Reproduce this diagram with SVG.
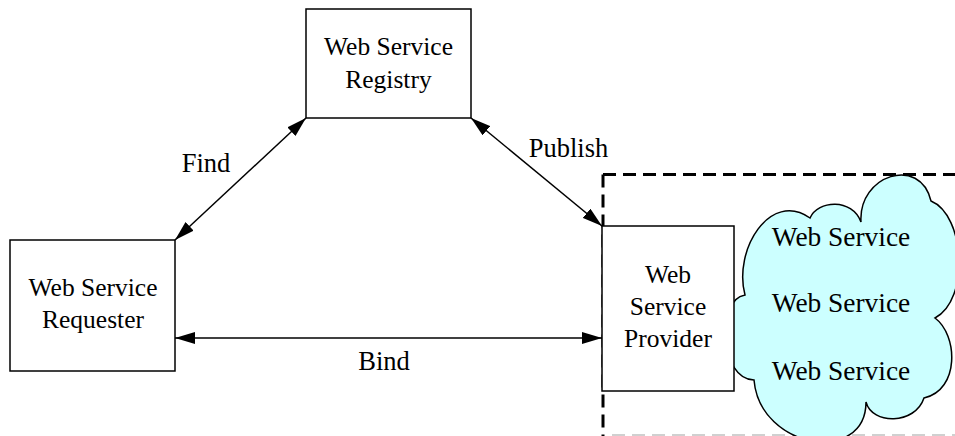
<svg xmlns="http://www.w3.org/2000/svg" width="955" height="436" viewBox="0 0 955 436">
<style>
text{font-family:"Liberation Serif","Times New Roman",serif;fill:#000;text-anchor:middle}
.box{fill:#fff;stroke:#000;stroke-width:1.5}
.t{font-size:25.5px}
.lbl{font-size:26.5px}
.ct{font-size:27.4px}
.conn{stroke:#000;stroke-width:1.5;fill:none;marker-start:url(#ah);marker-end:url(#ah)}
.dash{stroke:#000;stroke-width:3;fill:none;stroke-dasharray:13 7}
</style>
<defs>
<marker id="ah" viewBox="0 0 20 12" refX="20" refY="6" markerWidth="20" markerHeight="12" markerUnits="userSpaceOnUse" orient="auto-start-reverse">
<path d="M0,0 L20,6 L0,12 Z" fill="#000"/>
</marker>
</defs>
<rect width="955" height="436" fill="#fff"/>
<g id="boundary">
<path class="dash" d="M603,174.5 H960"/>
<path class="dash" d="M603,174.5 V440"/>
<path d="M612,435 H960" stroke="#d0d0d0" stroke-width="2" stroke-dasharray="13 7" fill="none"/>
</g>
<g id="cloud">
<path d="M745,295 C733,250 770,190 810,218 C818,200 852,198 861,222 C858,175 920,155 931,201 C965,215 970,300 935,318 C958,335 960,390 924,398 C915,425 872,425 866,402 C866,465 760,450 754,380 C720,380 715,300 745,295 Z" fill="#ccffff" stroke="#000" stroke-width="1.5"/>
<text class="ct" x="841" y="246">Web Service</text>
<text class="ct" x="841" y="312">Web Service</text>
<text class="ct" x="841" y="380">Web Service</text>
</g>
<g id="registry">
<rect class="box" x="306" y="9" width="165" height="109"/>
<text class="t" x="388.5" y="55">Web Service</text>
<text class="t" x="388.5" y="88">Registry</text>
</g>
<g id="requester">
<rect class="box" x="10" y="240" width="165" height="131"/>
<text class="t" x="93" y="296">Web Service</text>
<text class="t" x="93" y="328">Requester</text>
</g>
<g id="provider">
<rect class="box" x="602" y="226" width="132" height="165"/>
<text class="t" x="668" y="283">Web</text>
<text class="t" x="668" y="315">Service</text>
<text class="t" x="668" y="347">Provider</text>
</g>
<g id="connectors">
<line class="conn" x1="175" y1="240" x2="306" y2="118"/>
<line class="conn" x1="471" y1="118" x2="602" y2="226"/>
<line class="conn" x1="175" y1="338" x2="602" y2="338"/>
<text class="lbl" x="206" y="172">Find</text>
<text class="lbl" x="568.5" y="157">Publish</text>
<text class="lbl" x="384" y="370">Bind</text>
</g>
</svg>
